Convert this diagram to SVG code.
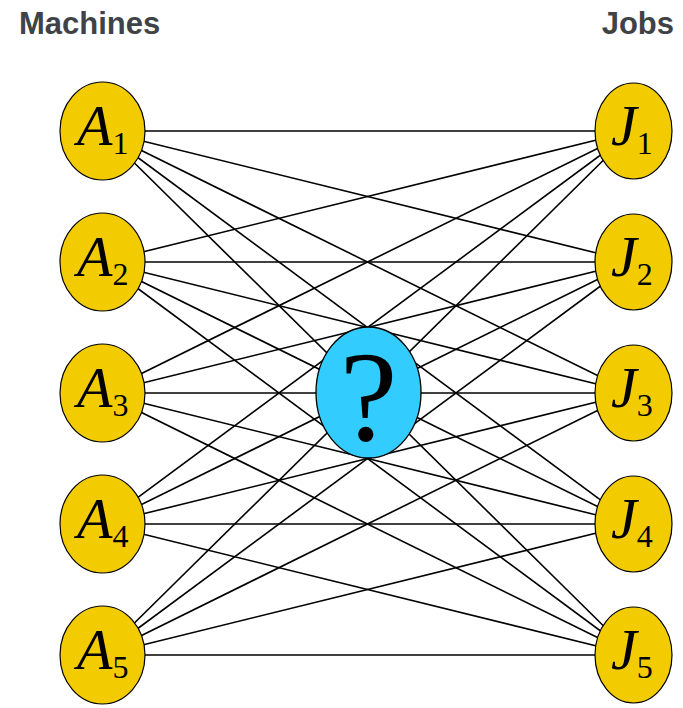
<svg xmlns="http://www.w3.org/2000/svg" width="683" height="708" viewBox="0 0 683 708">
<style>
.title{font-family:"Liberation Sans",Arial,sans-serif;font-weight:bold;font-size:31px;fill:#3f4347}
.node{fill:#f2cc00;stroke:#000;stroke-width:1.2}
.q{fill:#33ccff;stroke:#000;stroke-width:1.3}
.lbl{font-family:"Liberation Serif","Times New Roman",serif;font-style:italic;font-size:58px;fill:#000}
.sub{font-family:"Liberation Serif","Times New Roman",serif;font-style:normal;font-size:32px}
.edges line{stroke:#000;stroke-width:1.6}
</style>
<rect width="683" height="708" fill="#fff"/>
<text class="title" x="19" y="34">Machines</text>
<text class="title" x="674" y="34" text-anchor="end">Jobs</text>
<g id="edges" class="edges">
<line x1="102" y1="131" x2="633" y2="131"/><line x1="102" y1="131" x2="633" y2="262"/><line x1="102" y1="131" x2="633" y2="393"/><line x1="102" y1="131" x2="633" y2="524"/><line x1="102" y1="131" x2="633" y2="655"/>
<line x1="102" y1="262" x2="633" y2="131"/><line x1="102" y1="262" x2="633" y2="262"/><line x1="102" y1="262" x2="633" y2="393"/><line x1="102" y1="262" x2="633" y2="524"/><line x1="102" y1="262" x2="633" y2="655"/>
<line x1="102" y1="393" x2="633" y2="131"/><line x1="102" y1="393" x2="633" y2="262"/><line x1="102" y1="393" x2="633" y2="393"/><line x1="102" y1="393" x2="633" y2="524"/><line x1="102" y1="393" x2="633" y2="655"/>
<line x1="102" y1="524" x2="633" y2="131"/><line x1="102" y1="524" x2="633" y2="262"/><line x1="102" y1="524" x2="633" y2="393"/><line x1="102" y1="524" x2="633" y2="524"/><line x1="102" y1="524" x2="633" y2="655"/>
<line x1="102" y1="655" x2="633" y2="131"/><line x1="102" y1="655" x2="633" y2="262"/><line x1="102" y1="655" x2="633" y2="393"/><line x1="102" y1="655" x2="633" y2="524"/><line x1="102" y1="655" x2="633" y2="655"/>
</g>
<g id="A1"><ellipse class="node" cx="102.5" cy="131" rx="42.5" ry="49"/><text class="lbl" x="77" y="145">A<tspan class="sub" dy="9">1</tspan></text></g>
<g id="A2"><ellipse class="node" cx="102.5" cy="262" rx="42.5" ry="49"/><text class="lbl" x="77" y="276">A<tspan class="sub" dy="9">2</tspan></text></g>
<g id="A3"><ellipse class="node" cx="102.5" cy="393" rx="42.5" ry="49"/><text class="lbl" x="77" y="407">A<tspan class="sub" dy="9">3</tspan></text></g>
<g id="A4"><ellipse class="node" cx="102.5" cy="524" rx="42.5" ry="49"/><text class="lbl" x="77" y="538">A<tspan class="sub" dy="9">4</tspan></text></g>
<g id="A5"><ellipse class="node" cx="102.5" cy="655" rx="42.5" ry="49"/><text class="lbl" x="77" y="669">A<tspan class="sub" dy="9">5</tspan></text></g>
<g id="J1"><ellipse class="node" cx="633.5" cy="131" rx="38.5" ry="48"/><text class="lbl" x="611" y="145">J<tspan class="sub" dy="9">1</tspan></text></g>
<g id="J2"><ellipse class="node" cx="633.5" cy="262" rx="38.5" ry="48"/><text class="lbl" x="611" y="276">J<tspan class="sub" dy="9">2</tspan></text></g>
<g id="J3"><ellipse class="node" cx="633.5" cy="393" rx="38.5" ry="48"/><text class="lbl" x="611" y="407">J<tspan class="sub" dy="9">3</tspan></text></g>
<g id="J4"><ellipse class="node" cx="633.5" cy="524" rx="38.5" ry="48"/><text class="lbl" x="611" y="538">J<tspan class="sub" dy="9">4</tspan></text></g>
<g id="J5"><ellipse class="node" cx="633.5" cy="655" rx="38.5" ry="48"/><text class="lbl" x="611" y="669">J<tspan class="sub" dy="9">5</tspan></text></g>
<g id="Q"><ellipse class="q" cx="368.5" cy="392.5" rx="52.5" ry="65.5"/><text x="368.5" y="440" text-anchor="middle" style="font-family:'Liberation Serif','Times New Roman',serif;font-size:130px;fill:#000">?</text></g>
</svg>
